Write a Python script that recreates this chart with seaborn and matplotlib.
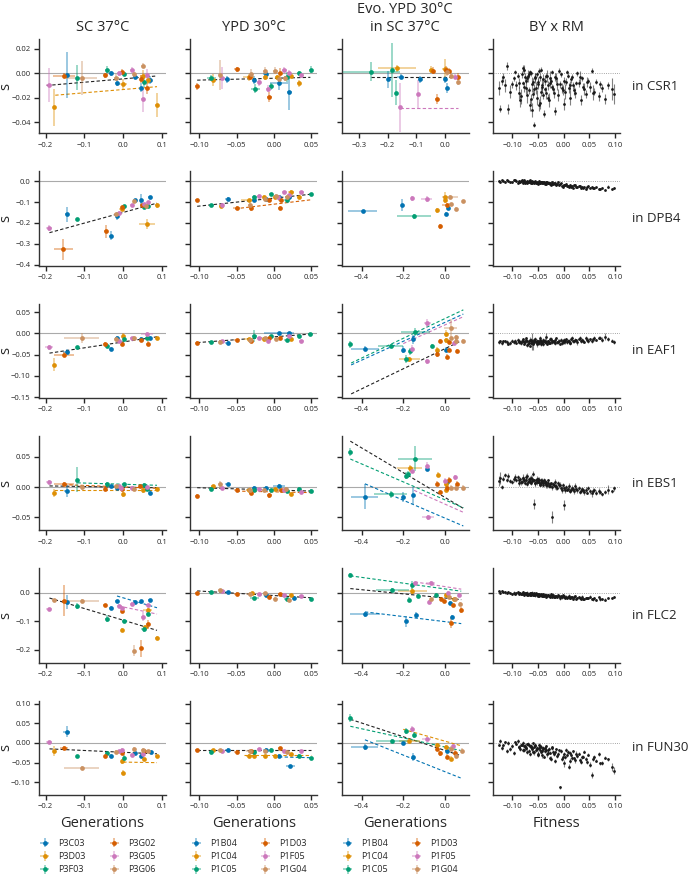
import numpy as np
import matplotlib
matplotlib.use("Agg")
import matplotlib.pyplot as plt
import seaborn as sns

# strains / panels
strains_sc = ["P3C03", "P3D03", "P3F03", "P3G02", "P3G05", "P3G06"]
strains_ypd = ["P1B04", "P1C04", "P1C05", "P1D03", "P1F05", "P1G04"]
genes = ["CSR1", "DPB4", "EAF1", "EBS1", "FLC2", "FUN30"]
col_titles = ["SC 37°C", "YPD 30°C", "Evo. YPD 30°C\nin SC 37°C", "BY x RM"]

# points: (strain, generations, s, x err, s err)
# fits: (strain or -1 for all, x from, x to, slope, intercept)
csr1_sc = [
    (4, -0.191, -0.0097, 0.008, 0.014), (1, -0.178, -0.0278, 0.004, 0.015),
    (3, -0.153, -0.0022, 0.028, 0.002), (0, -0.146, -0.0014, 0.004, 0.019),
    (2, -0.118, -0.0036, 0.004, 0.010), (5, -0.107, -0.0036, 0.040, 0.014),
    (3, -0.046, -0.0017, 0.006, 0.002), (2, -0.042, 0.0028, 0.004, 0.003),
    (0, -0.032, 0.0000, 0.004, 0.002), (5, -0.018, -0.0036, 0.006, 0.003),
    (0, -0.016, -0.0078, 0.004, 0.003), (4, -0.012, 0.0000, 0.005, 0.002),
    (3, -0.003, 0.0014, 0.004, 0.002), (2, 0.003, -0.0006, 0.004, 0.002),
    (1, 0.000, -0.0089, 0.010, 0.004), (4, 0.022, 0.0028, 0.005, 0.002),
    (5, 0.028, -0.0006, 0.004, 0.002), (0, 0.031, -0.0028, 0.006, 0.002),
    (5, 0.050, 0.0060, 0.004, 0.002), (1, 0.050, -0.0020, 0.008, 0.005),
    (3, 0.046, -0.0047, 0.004, 0.003), (0, 0.047, -0.0117, 0.004, 0.004),
    (2, 0.053, -0.0070, 0.005, 0.004), (4, 0.051, -0.0214, 0.004, 0.010),
    (3, 0.061, -0.0120, 0.004, 0.005), (4, 0.060, -0.0014, 0.006, 0.005),
    (1, 0.063, -0.0056, 0.004, 0.003), (0, 0.068, -0.0056, 0.004, 0.003),
    (1, 0.087, -0.0258, 0.004, 0.010),
]
csr1_sc_fit = [(-1, -0.197, 0.087, 0.0275, -0.0046), (1, -0.175, 0.087, 0.0267, -0.0133)]
csr1_ypd = [
    (3, -0.103, -0.0106, 0.003, 0.003), (2, -0.084, -0.0036, 0.006, 0.002),
    (1, -0.082, -0.0056, 0.003, 0.005), (5, -0.072, -0.0014, 0.003, 0.012),
    (4, -0.069, -0.0036, 0.003, 0.009), (0, -0.063, -0.0050, 0.003, 0.003),
    (3, -0.050, 0.0033, 0.004, 0.002), (1, -0.034, -0.0033, 0.008, 0.003),
    (5, -0.031, -0.0006, 0.003, 0.004), (3, -0.032, -0.0033, 0.003, 0.002),
    (0, -0.027, -0.0056, 0.003, 0.003), (4, -0.020, -0.0075, 0.003, 0.003),
    (2, -0.025, -0.0125, 0.006, 0.004), (1, -0.012, -0.0033, 0.003, 0.002),
    (5, -0.012, 0.0020, 0.003, 0.003), (0, -0.011, -0.0006, 0.003, 0.002),
    (4, -0.008, -0.0125, 0.003, 0.003), (3, -0.006, -0.0194, 0.003, 0.004),
    (2, -0.004, -0.0106, 0.003, 0.003), (5, 0.002, 0.0020, 0.003, 0.003),
    (1, 0.004, -0.0033, 0.003, 0.002), (3, 0.008, 0.0006, 0.003, 0.004),
    (5, 0.007, -0.0050, 0.003, 0.003), (0, 0.007, -0.0083, 0.012, 0.005),
    (4, 0.014, 0.0028, 0.003, 0.002), (2, 0.017, -0.0028, 0.004, 0.004),
    (4, 0.020, 0.0006, 0.003, 0.002), (5, 0.015, -0.0040, 0.003, 0.002),
    (0, 0.021, -0.0153, 0.003, 0.015), (1, 0.023, -0.0020, 0.003, 0.002),
    (2, 0.034, 0.0000, 0.003, 0.002), (1, 0.034, -0.0083, 0.003, 0.003),
    (4, 0.037, -0.0014, 0.003, 0.002), (2, 0.0496, 0.0028, 0.003, 0.003),
]
csr1_ypd_fit = [(-1, -0.103, 0.049, 0.015, -0.0041)]
csr1_evo = [
    (2, -0.257, 0.0014, 0.100, 0.008), (0, -0.197, -0.0050, 0.004, 0.007),
    (2, -0.185, 0.0028, 0.004, 0.022), (2, -0.171, -0.0158, 0.004, 0.010),
    (1, -0.168, 0.0040, 0.067, 0.003), (0, -0.154, -0.0028, 0.012, 0.002),
    (4, -0.156, -0.0278, 0.004, 0.020), (4, -0.093, -0.0172, 0.004, 0.012),
    (0, -0.088, -0.0050, 0.004, 0.003), (1, -0.046, 0.0028, 0.010, 0.003),
    (3, -0.040, 0.0022, 0.004, 0.003), (3, -0.028, -0.0210, 0.004, 0.004),
    (1, 0.000, 0.0033, 0.008, 0.008), (0, 0.000, -0.0050, 0.004, 0.003),
    (3, 0.004, 0.0028, 0.005, 0.003), (5, 0.010, 0.0014, 0.008, 0.004),
    (0, 0.010, -0.0122, 0.004, 0.004), (3, 0.016, 0.0022, 0.004, 0.002),
    (5, 0.022, -0.0020, 0.004, 0.003), (4, 0.036, -0.0028, 0.004, 0.002),
    (3, 0.048, -0.0028, 0.004, 0.003), (5, 0.046, -0.0070, 0.004, 0.003),
]
csr1_evo_fit = [(-1, -0.257, 0.048, 0.0, -0.0028), (4, -0.156, 0.048, 0.0, -0.0283)]

dpb4_sc = [
    (4, -0.191, -0.225, 0.008, 0.015), (3, -0.154, -0.327, 0.025, 0.050),
    (0, -0.146, -0.159, 0.004, 0.035), (2, -0.118, -0.183, 0.004, 0.006),
    (3, -0.045, -0.241, 0.004, 0.030), (0, -0.032, -0.261, 0.004, 0.020),
    (5, -0.019, -0.159, 0.004, 0.008), (0, -0.015, -0.167, 0.004, 0.020),
    (4, -0.010, -0.151, 0.005, 0.006), (1, -0.004, -0.132, 0.008, 0.010),
    (3, -0.003, -0.124, 0.004, 0.006), (2, 0.003, -0.120, 0.004, 0.006),
    (4, 0.022, -0.116, 0.004, 0.006), (5, 0.028, -0.097, 0.004, 0.006),
    (0, 0.031, -0.089, 0.004, 0.006), (0, 0.047, -0.092, 0.004, 0.030),
    (3, 0.048, -0.113, 0.004, 0.006), (4, 0.053, -0.108, 0.004, 0.006),
    (2, 0.054, -0.124, 0.004, 0.006), (1, 0.061, -0.204, 0.020, 0.025),
    (5, 0.058, -0.118, 0.004, 0.006), (2, 0.063, -0.118, 0.004, 0.006),
    (4, 0.064, -0.100, 0.004, 0.006), (0, 0.068, -0.076, 0.004, 0.006),
    (1, 0.087, -0.116, 0.004, 0.010),
]
dpb4_sc_fit = [(-1, -0.19, 0.087, 0.513, -0.1495)]
dpb4_ypd = [
    (3, -0.103, -0.092, 0.003, 0.008), (2, -0.084, -0.116, 0.003, 0.006),
    (4, -0.070, -0.113, 0.003, 0.010), (1, -0.071, -0.121, 0.003, 0.008),
    (0, -0.062, -0.084, 0.003, 0.008), (3, -0.050, -0.127, 0.005, 0.008),
    (1, -0.034, -0.092, 0.010, 0.006), (5, -0.032, -0.112, 0.003, 0.010),
    (3, -0.031, -0.129, 0.003, 0.015), (2, -0.026, -0.076, 0.003, 0.008),
    (0, -0.027, -0.092, 0.003, 0.008), (4, -0.020, -0.069, 0.003, 0.006),
    (1, -0.013, -0.076, 0.003, 0.008), (5, -0.012, -0.084, 0.003, 0.008),
    (0, -0.011, -0.087, 0.003, 0.008), (3, -0.006, -0.089, 0.003, 0.008),
    (2, -0.004, -0.061, 0.003, 0.006), (1, 0.002, -0.076, 0.003, 0.006),
    (4, 0.005, -0.073, 0.003, 0.006), (5, 0.003, -0.069, 0.003, 0.006),
    (3, 0.008, -0.129, 0.003, 0.008), (3, 0.009, -0.089, 0.003, 0.006),
    (0, 0.007, -0.076, 0.003, 0.006), (4, 0.014, -0.053, 0.003, 0.006),
    (2, 0.017, -0.089, 0.003, 0.008), (4, 0.020, -0.065, 0.003, 0.006),
    (5, 0.018, -0.073, 0.003, 0.006), (1, 0.023, -0.049, 0.004, 0.006),
    (0, 0.021, -0.076, 0.003, 0.006), (1, 0.034, -0.076, 0.003, 0.006),
    (4, 0.037, -0.053, 0.003, 0.006), (2, 0.050, -0.062, 0.003, 0.006),
]
dpb4_ypd_fit = [(-1, -0.103, 0.05, 0.38, -0.081), (3, -0.052, 0.049, 0.425, -0.110)]
dpb4_evo = [
    (0, -0.395, -0.145, 0.070, 0.008), (0, -0.204, -0.113, 0.004, 0.030),
    (4, -0.159, -0.081, 0.004, 0.012), (4, -0.088, -0.084, 0.025, 0.015),
    (2, -0.148, -0.169, 0.080, 0.010), (1, -0.037, -0.140, 0.006, 0.012),
    (1, -0.002, -0.073, 0.006, 0.020), (1, 0.002, -0.092, 0.006, 0.010),
    (5, 0.024, -0.076, 0.040, 0.010), (3, 0.008, -0.113, 0.020, 0.008),
    (5, 0.027, -0.110, 0.006, 0.008), (0, 0.014, -0.129, 0.004, 0.010),
    (0, 0.005, -0.156, 0.004, 0.010), (5, 0.054, -0.132, 0.004, 0.008),
    (5, 0.086, -0.097, 0.004, 0.006), (3, -0.025, -0.217, 0.004, 0.012),
]
dpb4_evo_fit = []

eaf1_sc = [
    (4, -0.191, -0.0326, 0.010, 0.006), (1, -0.178, -0.0736, 0.004, 0.015),
    (3, -0.153, -0.0500, 0.025, 0.006), (0, -0.146, -0.0430, 0.008, 0.006),
    (2, -0.118, -0.0326, 0.004, 0.004), (5, -0.107, -0.0100, 0.045, 0.012),
    (3, -0.046, -0.0240, 0.006, 0.004), (2, -0.042, -0.0290, 0.004, 0.004),
    (0, -0.032, -0.0370, 0.004, 0.005), (5, -0.019, -0.0140, 0.004, 0.004),
    (0, -0.016, -0.0100, 0.004, 0.004), (4, -0.012, -0.0180, 0.006, 0.004),
    (3, -0.003, -0.0240, 0.004, 0.004), (1, 0.000, -0.0050, 0.004, 0.006),
    (2, 0.003, -0.0140, 0.004, 0.004), (4, 0.022, -0.0120, 0.004, 0.004),
    (5, 0.028, -0.0100, 0.004, 0.004), (3, 0.046, -0.0155, 0.004, 0.004),
    (0, 0.047, -0.0130, 0.004, 0.004), (4, 0.061, -0.0020, 0.015, 0.005),
    (3, 0.063, -0.0240, 0.004, 0.005), (2, 0.061, -0.0110, 0.004, 0.004),
    (0, 0.070, -0.0100, 0.004, 0.004), (1, 0.087, -0.0120, 0.004, 0.004),
]
eaf1_sc_fit = [(-1, -0.19, 0.087, 0.139, -0.0201)]
eaf1_ypd = [
    (3, -0.103, -0.0217, 0.003, 0.003), (2, -0.084, -0.0200, 0.003, 0.003),
    (5, -0.072, -0.0200, 0.003, 0.004), (4, -0.069, -0.0180, 0.003, 0.003),
    (0, -0.062, -0.0217, 0.003, 0.003), (3, -0.050, -0.0160, 0.003, 0.003),
    (1, -0.034, -0.0140, 0.006, 0.003), (5, -0.032, -0.0160, 0.003, 0.003),
    (3, -0.031, -0.0170, 0.003, 0.003), (2, -0.026, -0.0060, 0.003, 0.015),
    (4, -0.020, -0.0120, 0.003, 0.003), (1, -0.013, -0.0140, 0.003, 0.004),
    (5, -0.012, -0.0120, 0.006, 0.003), (4, -0.008, -0.0190, 0.003, 0.003),
    (3, -0.006, -0.0110, 0.003, 0.003), (2, -0.004, -0.0070, 0.003, 0.003),
    (0, 0.007, 0.0000, 0.020, 0.002), (3, 0.008, -0.0100, 0.003, 0.003),
    (5, 0.003, -0.0140, 0.003, 0.003), (2, 0.017, -0.0160, 0.003, 0.003),
    (0, 0.021, 0.0010, 0.003, 0.002), (1, 0.023, -0.0140, 0.003, 0.003),
    (4, 0.020, -0.0060, 0.003, 0.003), (4, 0.037, -0.0180, 0.003, 0.003),
    (2, 0.034, -0.0060, 0.003, 0.003), (2, 0.049, -0.0010, 0.003, 0.003),
]
eaf1_ypd_fit = [(-1, -0.103, 0.049, 0.132, -0.0081)]
eaf1_evo = [
    (2, -0.454, -0.0256, 0.004, 0.008), (0, -0.384, -0.0357, 0.068, 0.006),
    (2, -0.260, -0.0287, 0.060, 0.004), (0, -0.199, -0.0388, 0.004, 0.008),
    (2, -0.185, -0.0605, 0.004, 0.010), (2, -0.170, -0.0426, 0.004, 0.008),
    (0, -0.155, -0.0140, 0.004, 0.010), (4, -0.156, -0.0357, 0.004, 0.008),
    (2, -0.143, 0.0030, 0.070, 0.010), (1, -0.172, -0.0605, 0.050, 0.006),
    (4, -0.084, 0.0240, 0.015, 0.010), (4, -0.088, -0.0660, 0.008, 0.006),
    (2, -0.064, -0.0295, 0.004, 0.004), (1, -0.037, -0.0388, 0.006, 0.006),
    (3, -0.040, -0.0490, 0.004, 0.006), (3, -0.024, -0.0180, 0.004, 0.004),
    (1, 0.003, -0.0008, 0.006, 0.008), (1, 0.003, -0.0160, 0.006, 0.006),
    (0, 0.005, -0.0380, 0.004, 0.006), (3, 0.008, -0.0550, 0.004, 0.006),
    (3, 0.019, -0.0380, 0.004, 0.004), (3, 0.019, -0.0200, 0.004, 0.004),
    (5, 0.027, 0.0130, 0.030, 0.020), (5, 0.027, -0.0100, 0.004, 0.004),
    (5, 0.054, -0.0080, 0.004, 0.004), (5, 0.051, -0.0180, 0.004, 0.004),
    (3, 0.056, -0.0410, 0.004, 0.004), (5, 0.086, -0.0180, 0.004, 0.004),
    (4, 0.043, -0.0230, 0.004, 0.004),
]
eaf1_evo_fit = [(-1, -0.45, 0.07, 0.237, -0.036), (2, -0.45, 0.088, 0.233, 0.035),
                (0, -0.45, 0.088, 0.223, 0.026), (4, -0.2, 0.088, 0.22, 0.020)]

ebs1_sc = [
    (4, -0.191, 0.0092, 0.008, 0.003), (1, -0.178, -0.0097, 0.004, 0.006),
    (3, -0.153, 0.0054, 0.025, 0.003), (0, -0.146, -0.0065, 0.006, 0.010),
    (2, -0.118, 0.0124, 0.004, 0.020), (5, -0.107, 0.0000, 0.006, 0.004),
    (3, -0.046, -0.0027, 0.004, 0.003), (2, -0.042, 0.0054, 0.004, 0.003),
    (0, -0.032, 0.0010, 0.004, 0.003), (5, -0.018, 0.0010, 0.004, 0.003),
    (0, -0.016, -0.0017, 0.004, 0.003), (4, -0.010, 0.0010, 0.004, 0.003),
    (4, -0.006, -0.0010, 0.004, 0.003), (3, -0.003, -0.0027, 0.004, 0.003),
    (1, 0.000, -0.0120, 0.004, 0.004), (2, 0.003, 0.0043, 0.004, 0.003),
    (4, 0.022, -0.0010, 0.004, 0.003), (5, 0.027, -0.0027, 0.004, 0.003),
    (3, 0.044, 0.0010, 0.004, 0.003), (2, 0.053, 0.0038, 0.004, 0.003),
    (1, 0.051, -0.0054, 0.004, 0.004), (4, 0.061, 0.0000, 0.004, 0.003),
    (2, 0.061, -0.0038, 0.004, 0.003), (0, 0.068, -0.0092, 0.004, 0.004),
    (1, 0.087, -0.0027, 0.004, 0.003),
]
ebs1_sc_fit = [(-1, -0.19, 0.087, -0.0108, -0.0001), (2, -0.118, 0.087, -0.0195, 0.0047),
               (1, -0.178, 0.087, 0.0, -0.0040), (3, -0.153, 0.087, -0.025, 0.0002)]
ebs1_ypd = [
    (3, -0.103, -0.0146, 0.003, 0.004), (2, -0.084, -0.0027, 0.003, 0.003),
    (1, -0.082, 0.0010, 0.003, 0.003), (5, -0.072, 0.0043, 0.003, 0.006),
    (4, -0.069, -0.0010, 0.003, 0.003), (0, -0.062, 0.0043, 0.003, 0.003),
    (3, -0.050, -0.0043, 0.003, 0.003), (1, -0.034, -0.0054, 0.003, 0.003),
    (5, -0.032, -0.0043, 0.006, 0.004), (3, -0.031, -0.0090, 0.003, 0.003),
    (0, -0.027, -0.0010, 0.003, 0.003), (2, -0.026, -0.0043, 0.003, 0.003),
    (4, -0.020, -0.0038, 0.003, 0.003), (5, -0.013, -0.0054, 0.003, 0.003),
    (0, -0.011, -0.0017, 0.003, 0.003), (3, -0.006, -0.0135, 0.003, 0.004),
    (2, -0.004, -0.0054, 0.003, 0.003), (1, 0.002, -0.0038, 0.003, 0.003),
    (0, 0.007, 0.0016, 0.008, 0.003), (3, 0.009, -0.0054, 0.003, 0.003),
    (5, 0.016, -0.0027, 0.003, 0.003), (4, 0.014, -0.0043, 0.003, 0.003),
    (2, 0.017, -0.0065, 0.003, 0.003), (1, 0.023, -0.0108, 0.003, 0.003),
    (2, 0.034, -0.0027, 0.003, 0.003), (4, 0.037, -0.0080, 0.003, 0.003),
    (2, 0.0496, -0.0065, 0.003, 0.003),
]
ebs1_ypd_fit = [(-1, -0.103, 0.05, -0.036, -0.0047), (3, -0.05, 0.05, -0.025, -0.0078)]
ebs1_evo = [
    (2, -0.454, 0.0580, 0.004, 0.006), (0, -0.384, -0.0157, 0.065, 0.020),
    (2, -0.260, -0.0120, 0.080, 0.006), (0, -0.199, -0.0160, 0.004, 0.008),
    (0, -0.155, -0.0135, 0.004, 0.014), (2, -0.143, 0.0470, 0.080, 0.020),
    (1, -0.169, 0.0310, 0.060, 0.006), (2, -0.185, 0.0190, 0.004, 0.006),
    (2, -0.175, 0.0210, 0.004, 0.006), (4, -0.156, 0.0270, 0.004, 0.004),
    (4, -0.088, 0.0350, 0.004, 0.006), (0, -0.084, 0.0300, 0.004, 0.004),
    (4, -0.081, -0.0500, 0.030, 0.004), (1, -0.033, 0.0205, 0.006, 0.004),
    (3, -0.037, 0.0054, 0.004, 0.004), (3, -0.024, -0.0080, 0.004, 0.004),
    (4, -0.002, 0.0108, 0.004, 0.004), (1, 0.003, 0.0054, 0.006, 0.006),
    (0, 0.008, 0.0080, 0.004, 0.004), (3, 0.019, 0.0124, 0.004, 0.004),
    (3, 0.011, -0.0010, 0.004, 0.004), (1, 0.003, -0.0045, 0.004, 0.004),
    (5, 0.027, -0.0010, 0.004, 0.004), (5, 0.054, -0.0010, 0.004, 0.004),
    (4, 0.046, 0.0160, 0.004, 0.004), (3, 0.056, 0.0054, 0.004, 0.004),
    (5, 0.086, -0.0010, 0.004, 0.004),
]
ebs1_evo_fit = [(-1, -0.454, 0.088, -0.204, -0.017), (2, -0.454, 0.088, -0.148, -0.021),
                (0, -0.384, 0.088, -0.147, -0.051), (4, -0.148, 0.088, -0.153, -0.028)]

flc2_sc = [
    (4, -0.191, -0.0588, 0.008, 0.006), (5, -0.178, -0.0270, 0.006, 0.006),
    (3, -0.153, -0.0280, 0.004, 0.055), (0, -0.146, -0.0330, 0.004, 0.025),
    (2, -0.118, -0.0470, 0.004, 0.012), (5, -0.107, -0.0280, 0.045, 0.006),
    (3, -0.046, -0.0450, 0.005, 0.006), (2, -0.042, -0.0920, 0.004, 0.012),
    (0, -0.032, -0.0530, 0.004, 0.006), (0, -0.016, -0.0310, 0.004, 0.006),
    (4, -0.010, -0.0470, 0.006, 0.006), (4, -0.003, -0.0530, 0.004, 0.006),
    (3, -0.002, -0.0650, 0.004, 0.006), (1, -0.002, -0.1310, 0.004, 0.006),
    (2, 0.003, -0.1000, 0.006, 0.006), (0, 0.031, -0.0330, 0.004, 0.006),
    (4, 0.022, -0.0390, 0.004, 0.006), (5, 0.029, -0.2040, 0.004, 0.020),
    (3, 0.046, -0.1950, 0.004, 0.030), (0, 0.047, -0.0310, 0.004, 0.006),
    (4, 0.051, -0.0840, 0.004, 0.015), (2, 0.053, -0.1270, 0.006, 0.010),
    (1, 0.055, -0.1200, 0.004, 0.006), (4, 0.063, -0.0450, 0.006, 0.006),
    (1, 0.063, -0.0600, 0.012, 0.006), (2, 0.063, -0.0740, 0.004, 0.008),
    (3, 0.063, -0.1120, 0.004, 0.015), (0, 0.068, -0.0270, 0.004, 0.006),
    (1, 0.087, -0.1590, 0.004, 0.008),
]
flc2_sc_fit = [(-1, -0.19, 0.087, -0.41, -0.097), (0, -0.016, 0.087, -0.40, -0.0184),
               (4, -0.012, 0.087, -0.287, -0.0504)]
flc2_ypd = [
    (3, -0.103, 0.0000, 0.003, 0.003), (2, -0.084, 0.0020, 0.003, 0.003),
    (5, -0.072, 0.0080, 0.003, 0.004), (0, -0.062, 0.0035, 0.003, 0.003),
    (4, -0.069, 0.0060, 0.003, 0.003), (3, -0.050, -0.0060, 0.003, 0.003),
    (1, -0.030, -0.0020, 0.003, 0.003), (5, -0.032, -0.0060, 0.006, 0.004),
    (2, -0.026, -0.0180, 0.006, 0.004), (4, -0.020, -0.0060, 0.003, 0.003),
    (5, -0.012, -0.0020, 0.003, 0.003), (0, -0.010, -0.0090, 0.003, 0.003),
    (3, -0.006, -0.0150, 0.003, 0.003), (5, 0.002, -0.0210, 0.003, 0.004),
    (3, 0.008, -0.0060, 0.003, 0.006), (4, 0.014, -0.0090, 0.003, 0.003),
    (2, 0.017, -0.0210, 0.003, 0.003), (5, 0.020, -0.0270, 0.003, 0.003),
    (1, 0.023, -0.0090, 0.003, 0.003), (0, 0.027, -0.0180, 0.003, 0.003),
    (4, 0.037, -0.0130, 0.003, 0.003), (2, 0.050, -0.0210, 0.003, 0.003),
]
flc2_ypd_fit = [(-1, -0.103, 0.05, -0.158, -0.0103)]
flc2_evo = [
    (2, -0.454, 0.0635, 0.004, 0.006), (0, -0.384, -0.0765, 0.070, 0.008),
    (2, -0.252, 0.0106, 0.080, 0.006), (0, -0.188, -0.1010, 0.004, 0.020),
    (2, -0.172, -0.0250, 0.004, 0.008), (2, -0.159, 0.0260, 0.004, 0.015),
    (1, -0.156, 0.0060, 0.070, 0.010), (4, -0.145, 0.0320, 0.006, 0.006),
    (0, -0.140, -0.0780, 0.004, 0.010), (2, -0.129, -0.0110, 0.004, 0.006),
    (4, -0.069, 0.0340, 0.020, 0.006), (4, -0.076, -0.0330, 0.004, 0.008),
    (5, -0.069, -0.0240, 0.004, 0.006), (2, -0.045, -0.0090, 0.004, 0.006),
    (3, -0.020, -0.0210, 0.004, 0.006), (3, -0.005, -0.0310, 0.004, 0.006),
    (1, 0.003, -0.0090, 0.008, 0.008), (5, 0.019, -0.0150, 0.004, 0.006),
    (4, 0.014, -0.0010, 0.004, 0.006), (4, 0.067, -0.0070, 0.004, 0.006),
    (0, 0.024, -0.0360, 0.004, 0.006), (1, 0.043, -0.0240, 0.004, 0.006),
    (5, 0.048, -0.0210, 0.004, 0.006), (3, 0.040, -0.0450, 0.004, 0.006),
    (3, 0.075, -0.0600, 0.004, 0.010), (5, 0.072, -0.0390, 0.004, 0.006),
    (0, 0.035, -0.0860, 0.004, 0.006), (3, 0.027, -0.1060, 0.004, 0.020),
]
flc2_evo_fit = [(2, -0.454, 0.078, -0.1015, 0.0129), (-1, -0.454, 0.078, -0.073, -0.019),
                (0, -0.384, 0.078, -0.089, -0.102), (4, -0.145, 0.078, -0.115, 0.021)]

fun30_sc = [
    (4, -0.191, 0.0017, 0.008, 0.003), (1, -0.178, -0.0210, 0.004, 0.012),
    (3, -0.153, -0.0126, 0.010, 0.004), (0, -0.146, 0.0290, 0.010, 0.015),
    (2, -0.118, -0.0335, 0.004, 0.004), (5, -0.107, -0.0630, 0.045, 0.004),
    (3, -0.046, -0.0335, 0.004, 0.004), (2, -0.042, -0.0260, 0.004, 0.004),
    (0, -0.032, -0.0320, 0.004, 0.004), (5, -0.019, -0.0230, 0.004, 0.004),
    (4, -0.010, -0.0210, 0.004, 0.004), (4, -0.003, -0.0170, 0.004, 0.004),
    (3, -0.002, -0.0260, 0.004, 0.004), (1, -0.002, -0.0470, 0.004, 0.006),
    (1, -0.001, -0.0754, 0.004, 0.006), (2, 0.003, -0.0377, 0.004, 0.006),
    (4, 0.022, -0.0300, 0.004, 0.004), (5, 0.029, -0.0150, 0.004, 0.004),
    (0, 0.031, -0.0260, 0.004, 0.004), (0, 0.047, -0.0320, 0.004, 0.004),
    (4, 0.051, -0.0290, 0.004, 0.006), (5, 0.051, -0.0170, 0.004, 0.004),
    (3, 0.053, -0.0200, 0.004, 0.004), (1, 0.053, -0.0420, 0.004, 0.004),
    (5, 0.063, -0.0210, 0.004, 0.004), (0, 0.071, -0.0220, 0.004, 0.004),
    (1, 0.087, -0.0340, 0.004, 0.004),
]
fun30_sc_fit = [(-1, -0.19, 0.087, -0.0455, -0.0237), (1, 0.0, 0.087, -0.016, -0.0486)]
fun30_ypd = [
    (3, -0.103, -0.0190, 0.003, 0.003), (2, -0.084, -0.0220, 0.003, 0.003),
    (1, -0.082, -0.0180, 0.003, 0.003), (5, -0.072, -0.0190, 0.003, 0.003),
    (4, -0.069, -0.0210, 0.003, 0.003), (0, -0.062, -0.0170, 0.003, 0.003),
    (3, -0.050, -0.0220, 0.003, 0.003), (1, -0.034, -0.0320, 0.004, 0.003),
    (5, -0.032, -0.0200, 0.006, 0.003), (1, -0.027, -0.0320, 0.003, 0.003),
    (3, -0.031, -0.0200, 0.003, 0.003), (2, -0.026, -0.0220, 0.003, 0.003),
    (4, -0.020, -0.0150, 0.003, 0.003), (1, -0.012, -0.0340, 0.003, 0.003),
    (0, -0.011, -0.0170, 0.003, 0.003), (5, -0.012, -0.0200, 0.003, 0.003),
    (2, -0.004, -0.0170, 0.003, 0.003), (3, 0.008, -0.0126, 0.003, 0.003),
    (1, 0.002, -0.0320, 0.003, 0.003), (0, 0.007, -0.0320, 0.003, 0.003),
    (4, 0.014, -0.0200, 0.003, 0.003), (5, 0.018, -0.0240, 0.003, 0.003),
    (0, 0.022, -0.0590, 0.006, 0.004), (1, 0.023, -0.0290, 0.003, 0.003),
    (4, 0.037, -0.0200, 0.003, 0.003), (2, 0.034, -0.0320, 0.003, 0.003),
    (2, 0.0496, -0.0377, 0.003, 0.003),
]
fun30_ypd_fit = [(-1, -0.103, 0.05, 0.0, -0.019), (1, -0.04, 0.05, 0.0, -0.031),
                 (0, 0.007, 0.05, -0.05, -0.035)]
fun30_evo = [
    (2, -0.454, 0.0630, 0.004, 0.010), (0, -0.384, -0.0100, 0.065, 0.008),
    (2, -0.252, 0.0050, 0.080, 0.006), (2, -0.185, 0.0300, 0.004, 0.008),
    (0, -0.199, 0.0000, 0.004, 0.006), (1, -0.172, 0.0060, 0.050, 0.006),
    (4, -0.160, 0.0360, 0.004, 0.006), (2, -0.150, 0.0200, 0.004, 0.008),
    (0, -0.155, -0.0360, 0.004, 0.010), (4, -0.088, 0.0100, 0.020, 0.006),
    (1, -0.037, -0.0050, 0.006, 0.006), (3, -0.040, -0.0150, 0.004, 0.006),
    (3, -0.024, -0.0260, 0.004, 0.006), (1, 0.003, -0.0100, 0.006, 0.006),
    (0, 0.008, -0.0200, 0.004, 0.006), (3, 0.011, -0.0350, 0.004, 0.006),
    (5, 0.027, -0.0150, 0.004, 0.006), (4, 0.040, -0.0080, 0.004, 0.006),
    (3, 0.046, -0.0250, 0.004, 0.006), (5, 0.054, -0.0320, 0.004, 0.006),
    (1, 0.030, -0.0400, 0.004, 0.006), (5, 0.080, -0.0200, 0.004, 0.006),
]
fun30_evo_fit = [(-1, -0.454, 0.075, -0.174, -0.019), (0, -0.384, 0.075, -0.211, -0.073),
                 (2, -0.454, 0.075, -0.116, -0.0104), (1, -0.2, 0.075, -0.15, 0.0045)]

# BY x RM segregants: fitness, s in each knockout, s error
byrm_fitness = [
    -0.126, -0.124, -0.121, -0.115, -0.110, -0.108, -0.101, -0.097,
    -0.093, -0.090, -0.087, -0.086, -0.081, -0.079, -0.078, -0.076,
    -0.074, -0.072, -0.071, -0.068, -0.066, -0.065, -0.062, -0.060,
    -0.058, -0.057, -0.055, -0.052, -0.050, -0.049, -0.046, -0.043,
    -0.041, -0.038, -0.035, -0.034, -0.031, -0.028, -0.025, -0.023,
    -0.020, -0.017, -0.015, -0.011, -0.008, -0.006, -0.002, 0.001,
    0.004, 0.007, 0.010, 0.013, 0.017, 0.019, 0.023, 0.026,
    0.029, 0.033, 0.036, 0.040, 0.043, 0.047, 0.051, 0.055,
    0.060, 0.064, 0.069, 0.074, 0.080, 0.087, 0.095, 0.098,
    -0.118, -0.104, -0.095, -0.088, -0.083, -0.080, -0.077, -0.073,
    -0.070, -0.067, -0.064, -0.063, -0.061, -0.059, -0.056, -0.054,
    -0.053, -0.051, -0.048, -0.047, -0.045, -0.044, -0.042, -0.040,
    -0.037, -0.036, -0.033, -0.030, -0.027, -0.026, -0.022, -0.019,
    -0.016, -0.013, -0.010, -0.004, 0.000, 0.003, 0.008, 0.012,
    0.015, 0.021, 0.025, 0.031, 0.038, 0.045, 0.058, 0.071,
]
csr1_byrm = [
    -0.012, -0.029, -0.006, -0.010, 0.006, -0.029, -0.009, -0.004,
    -0.010, -0.002, -0.016, -0.022, -0.001, -0.008, 0.003, -0.003,
    -0.012, -0.004, -0.018, -0.001, -0.026, 0.001, -0.030, -0.007,
    -0.042, -0.013, -0.003, -0.020, -0.009, 0.002, -0.024, -0.011,
    -0.005, -0.033, -0.016, -0.002, -0.010, -0.022, -0.006, 0.001,
    -0.013, -0.031, -0.004, -0.018, -0.009, -0.001, -0.014, -0.025,
    -0.007, 0.001, -0.012, -0.020, -0.003, -0.010, -0.016, 0.000,
    -0.008, -0.022, -0.004, -0.013, -0.017, -0.006, -0.011, 0.002,
    -0.015, -0.007, -0.019, -0.012, -0.021, -0.010, -0.013, -0.017,
    -0.003, -0.015, 0.001, -0.008, -0.019, 0.004, -0.011, -0.006,
    -0.002, -0.014, -0.021, 0.000, -0.009, -0.017, -0.004, -0.012,
    -0.001, -0.007, -0.026, -0.003, -0.015, 0.003, -0.010, -0.018,
    -0.006, -0.013, -0.002, -0.020, -0.008, -0.004, -0.011, -0.016,
    -0.003, -0.009, 0.002, -0.012, -0.006, -0.015, -0.002, -0.010,
    -0.005, -0.014, -0.008, -0.003, -0.011, -0.007, -0.016, -0.009,
]
csr1_byrm_err = [
    0.006, 0.003, 0.004, 0.005, 0.003, 0.004, 0.003, 0.002,
    0.004, 0.002, 0.005, 0.006, 0.003, 0.002, 0.004, 0.003,
    0.005, 0.002, 0.006, 0.003, 0.005, 0.002, 0.006, 0.003,
    0.002, 0.004, 0.003, 0.006, 0.004, 0.002, 0.005, 0.003,
    0.004, 0.003, 0.005, 0.002, 0.004, 0.006, 0.003, 0.002,
    0.003, 0.003, 0.004, 0.005, 0.003, 0.002, 0.004, 0.005,
    0.003, 0.002, 0.004, 0.006, 0.002, 0.003, 0.004, 0.002,
    0.003, 0.004, 0.002, 0.005, 0.003, 0.002, 0.004, 0.002,
    0.003, 0.002, 0.004, 0.003, 0.004, 0.003, 0.009, 0.008,
    0.003, 0.005, 0.002, 0.004, 0.006, 0.003, 0.004, 0.002,
    0.005, 0.003, 0.004, 0.002, 0.006, 0.003, 0.004, 0.005,
    0.002, 0.004, 0.005, 0.003, 0.004, 0.002, 0.006, 0.003,
    0.004, 0.002, 0.005, 0.003, 0.004, 0.006, 0.002, 0.004,
    0.003, 0.005, 0.002, 0.004, 0.003, 0.006, 0.002, 0.004,
    0.003, 0.004, 0.002, 0.005, 0.003, 0.004, 0.006, 0.003,
]
dpb4_byrm = [
    0.000, -0.005, 0.004, -0.003, 0.008, 0.002, -0.004, 0.006,
    0.001, -0.006, 0.003, -0.002, 0.007, -0.004, 0.000, -0.010,
    -0.003, 0.002, -0.008, -0.001, -0.005, 0.004, -0.007, -0.002,
    -0.004, -0.010, 0.000, -0.006, -0.012, -0.003, -0.008, -0.001,
    -0.009, -0.005, -0.014, -0.002, -0.010, -0.007, -0.016, -0.004,
    -0.012, -0.008, -0.020, -0.005, -0.015, -0.010, -0.025, -0.018,
    -0.014, -0.022, -0.028, -0.017, -0.024, -0.030, -0.019, -0.026,
    -0.021, -0.032, -0.025, -0.029, -0.035, -0.023, -0.030, -0.027,
    -0.033, -0.028, -0.038, -0.031, -0.040, -0.026, -0.037, -0.030,
    0.003, -0.002, 0.005, -0.001, 0.002, -0.006, 0.004, -0.003,
    -0.002, 0.001, -0.005, -0.008, 0.000, -0.004, -0.001, -0.007,
    -0.003, -0.006, 0.001, -0.009, -0.004, -0.002, -0.008, -0.005,
    -0.006, -0.011, -0.004, -0.009, -0.013, -0.007, -0.012, -0.010,
    -0.015, -0.011, -0.018, -0.022, -0.016, -0.020, -0.024, -0.021,
    -0.025, -0.019, -0.028, -0.023, -0.030, -0.027, -0.033, -0.036,
]
dpb4_byrm_err = [
    0.004, 0.003, 0.005, 0.003, 0.004, 0.003, 0.006, 0.003,
    0.003, 0.004, 0.003, 0.005, 0.003, 0.004, 0.003, 0.004,
    0.005, 0.003, 0.004, 0.003, 0.006, 0.003, 0.004, 0.003,
    0.003, 0.005, 0.003, 0.004, 0.003, 0.003, 0.005, 0.004,
    0.004, 0.003, 0.006, 0.003, 0.004, 0.003, 0.003, 0.005,
    0.003, 0.004, 0.003, 0.005, 0.003, 0.004, 0.006, 0.003,
    0.004, 0.003, 0.005, 0.003, 0.004, 0.003, 0.003, 0.004,
    0.003, 0.005, 0.004, 0.003, 0.006, 0.003, 0.004, 0.003,
    0.004, 0.003, 0.005, 0.003, 0.004, 0.006, 0.003, 0.005,
    0.003, 0.004, 0.003, 0.005, 0.004, 0.003, 0.004, 0.003,
    0.005, 0.003, 0.004, 0.003, 0.004, 0.005, 0.003, 0.004,
    0.003, 0.004, 0.005, 0.003, 0.004, 0.003, 0.005, 0.004,
    0.004, 0.003, 0.004, 0.005, 0.003, 0.004, 0.003, 0.004,
    0.003, 0.005, 0.004, 0.003, 0.004, 0.003, 0.005, 0.003,
    0.004, 0.003, 0.005, 0.004, 0.003, 0.004, 0.005, 0.004,
]
eaf1_byrm = [
    -0.020, -0.018, -0.022, -0.019, -0.021, -0.024, -0.017, -0.020,
    -0.023, -0.016, -0.019, -0.021, -0.018, -0.014, -0.025, -0.020,
    -0.012, -0.027, -0.018, -0.022, -0.015, -0.030, -0.019, -0.023,
    -0.016, -0.021, -0.013, -0.026, -0.018, -0.022, -0.011, -0.020,
    -0.024, -0.017, -0.021, -0.008, -0.019, -0.023, -0.014, -0.020,
    -0.018, -0.022, -0.012, -0.020, -0.025, -0.016, -0.019, -0.021,
    -0.014, -0.020, -0.017, -0.023, -0.012, -0.019, -0.016, -0.021,
    -0.013, -0.018, -0.015, -0.020, -0.011, -0.017, -0.014, -0.019,
    -0.012, -0.016, -0.010, -0.015, -0.008, -0.013, -0.017, -0.020,
    -0.019, -0.022, -0.017, -0.020, -0.023, -0.018, -0.021, -0.016,
    -0.024, -0.019, -0.015, -0.022, -0.020, -0.026, -0.017, -0.021,
    -0.018, -0.023, -0.020, -0.016, -0.025, -0.019, -0.022, -0.015,
    -0.021, -0.017, -0.024, -0.019, -0.014, -0.022, -0.018, -0.020,
    -0.016, -0.021, -0.018, -0.023, -0.015, -0.019, -0.017, -0.022,
    -0.014, -0.019, -0.016, -0.012, -0.018, -0.015, -0.013, -0.010,
]
eaf1_byrm_err = [
    0.004, 0.003, 0.005, 0.004, 0.006, 0.003, 0.004, 0.005,
    0.003, 0.006, 0.004, 0.003, 0.005, 0.004, 0.003, 0.006,
    0.004, 0.005, 0.003, 0.004, 0.006, 0.003, 0.020, 0.004,
    0.005, 0.003, 0.004, 0.006, 0.003, 0.005, 0.004, 0.003,
    0.006, 0.004, 0.003, 0.010, 0.004, 0.003, 0.005, 0.004,
    0.003, 0.005, 0.004, 0.006, 0.003, 0.004, 0.005, 0.003,
    0.004, 0.006, 0.003, 0.004, 0.005, 0.003, 0.004, 0.006,
    0.003, 0.004, 0.005, 0.003, 0.004, 0.006, 0.003, 0.004,
    0.005, 0.003, 0.004, 0.006, 0.008, 0.004, 0.003, 0.004,
    0.004, 0.005, 0.003, 0.006, 0.004, 0.003, 0.005, 0.004,
    0.006, 0.003, 0.004, 0.005, 0.003, 0.012, 0.004, 0.003,
    0.005, 0.004, 0.003, 0.006, 0.004, 0.005, 0.003, 0.004,
    0.003, 0.005, 0.004, 0.003, 0.006, 0.004, 0.003, 0.005,
    0.004, 0.003, 0.005, 0.004, 0.003, 0.006, 0.004, 0.003,
    0.005, 0.004, 0.003, 0.006, 0.004, 0.005, 0.003, 0.004,
]
ebs1_byrm = [
    0.010, 0.015, 0.000, 0.020, 0.012, 0.018, 0.008, 0.013,
    0.011, 0.016, 0.006, 0.013, 0.009, 0.015, 0.011, 0.007,
    0.012, 0.018, 0.005, 0.010, 0.014, 0.008, 0.013, 0.022,
    -0.028, 0.011, 0.006, 0.014, 0.009, 0.012, 0.004, 0.010,
    0.007, 0.012, 0.003, 0.008, 0.011, 0.002, 0.006, -0.049,
    0.005, 0.009, 0.001, 0.007, 0.004, -0.002, 0.003, -0.030,
    0.000, -0.004, 0.002, -0.006, -0.001, -0.003, 0.001, -0.005,
    -0.002, -0.006, -0.003, -0.008, -0.004, -0.001, -0.007, -0.010,
    -0.005, -0.009, -0.006, -0.012, -0.008, -0.004, -0.007, -0.002,
    0.014, 0.010, 0.017, 0.012, 0.008, 0.015, 0.011, 0.016,
    0.009, 0.013, 0.007, 0.015, 0.010, 0.012, 0.006, 0.011,
    0.008, 0.013, 0.009, 0.005, 0.011, 0.007, 0.010, 0.004,
    0.006, 0.009, 0.003, 0.007, 0.002, 0.005, 0.000, 0.004,
    0.001, -0.002, 0.003, -0.004, -0.001, -0.005, -0.003, -0.006,
    -0.004, -0.007, -0.003, -0.008, -0.005, -0.009, -0.006, -0.008,
]
ebs1_byrm_err = [
    0.008, 0.010, 0.003, 0.004, 0.003, 0.005, 0.003, 0.004,
    0.003, 0.004, 0.005, 0.003, 0.004, 0.006, 0.003, 0.004,
    0.003, 0.005, 0.004, 0.003, 0.004, 0.003, 0.005, 0.004,
    0.008, 0.003, 0.004, 0.005, 0.003, 0.004, 0.003, 0.005,
    0.004, 0.003, 0.005, 0.004, 0.003, 0.004, 0.003, 0.010,
    0.003, 0.004, 0.005, 0.003, 0.004, 0.003, 0.004, 0.008,
    0.004, 0.003, 0.005, 0.003, 0.004, 0.003, 0.005, 0.004,
    0.003, 0.004, 0.003, 0.005, 0.004, 0.003, 0.004, 0.006,
    0.003, 0.004, 0.005, 0.003, 0.004, 0.008, 0.003, 0.004,
    0.004, 0.003, 0.005, 0.003, 0.004, 0.003, 0.004, 0.005,
    0.003, 0.004, 0.003, 0.005, 0.004, 0.003, 0.004, 0.003,
    0.005, 0.003, 0.004, 0.003, 0.004, 0.005, 0.003, 0.004,
    0.003, 0.004, 0.005, 0.003, 0.004, 0.003, 0.005, 0.004,
    0.004, 0.003, 0.004, 0.005, 0.003, 0.004, 0.003, 0.004,
    0.003, 0.005, 0.004, 0.003, 0.004, 0.003, 0.005, 0.004,
]
flc2_byrm = [
    0.004, 0.000, 0.006, 0.001, -0.002, 0.003, -0.005, 0.000,
    -0.003, 0.002, -0.006, -0.001, -0.004, 0.001, -0.008, -0.003,
    -0.005, 0.000, -0.009, -0.004, -0.002, -0.007, -0.001, -0.006,
    -0.008, -0.003, -0.010, -0.005, -0.012, -0.004, -0.007, -0.011,
    -0.006, -0.013, -0.009, -0.015, -0.008, -0.011, -0.005, -0.014,
    -0.010, -0.016, -0.012, -0.008, -0.019, -0.013, -0.010, -0.017,
    -0.014, -0.020, -0.011, -0.018, -0.015, -0.022, -0.013, -0.019,
    -0.016, -0.021, -0.014, -0.024, -0.018, -0.020, -0.015, -0.023,
    -0.019, -0.026, -0.017, -0.022, -0.025, -0.020, -0.018, -0.016,
    0.002, -0.001, -0.004, 0.000, -0.006, -0.002, -0.005, -0.003,
    -0.007, -0.004, -0.002, -0.008, -0.005, -0.010, -0.006, -0.003,
    -0.009, -0.006, -0.011, -0.007, -0.004, -0.010, -0.008, -0.013,
    -0.010, -0.007, -0.012, -0.009, -0.014, -0.011, -0.008, -0.015,
    -0.012, -0.017, -0.013, -0.016, -0.011, -0.018, -0.014, -0.020,
    -0.017, -0.015, -0.021, -0.018, -0.022, -0.019, -0.023, -0.024,
]
flc2_byrm_err = [
    0.003, 0.004, 0.003, 0.005, 0.003, 0.004, 0.003, 0.004,
    0.005, 0.003, 0.004, 0.003, 0.006, 0.003, 0.004, 0.003,
    0.004, 0.005, 0.003, 0.004, 0.003, 0.004, 0.005, 0.003,
    0.004, 0.003, 0.006, 0.004, 0.003, 0.004, 0.003, 0.005,
    0.003, 0.004, 0.003, 0.005, 0.004, 0.003, 0.004, 0.003,
    0.005, 0.004, 0.003, 0.004, 0.006, 0.003, 0.004, 0.003,
    0.004, 0.003, 0.005, 0.004, 0.003, 0.004, 0.003, 0.004,
    0.003, 0.005, 0.004, 0.003, 0.004, 0.003, 0.005, 0.004,
    0.003, 0.004, 0.003, 0.004, 0.005, 0.003, 0.004, 0.003,
    0.004, 0.003, 0.005, 0.003, 0.004, 0.003, 0.004, 0.005,
    0.003, 0.004, 0.003, 0.005, 0.004, 0.003, 0.004, 0.003,
    0.005, 0.003, 0.004, 0.003, 0.004, 0.005, 0.003, 0.004,
    0.003, 0.004, 0.005, 0.003, 0.004, 0.003, 0.005, 0.004,
    0.004, 0.003, 0.004, 0.005, 0.003, 0.004, 0.003, 0.004,
    0.003, 0.005, 0.004, 0.003, 0.004, 0.003, 0.005, 0.004,
]
fun30_byrm = [
    -0.004, 0.006, -0.012, 0.002, -0.020, 0.000, -0.008, -0.025,
    -0.002, 0.004, -0.010, -0.015, -0.005, -0.001, -0.018, -0.007,
    -0.012, -0.003, -0.022, -0.006, -0.028, -0.009, -0.014, -0.001,
    -0.010, -0.024, -0.005, -0.016, -0.030, -0.012, -0.008, -0.020,
    -0.014, -0.035, -0.018, -0.009, -0.025, -0.015, -0.040, -0.011,
    -0.022, -0.046, -0.016, -0.028, -0.112, -0.020, -0.035, -0.052,
    -0.018, -0.030, -0.060, -0.025, -0.038, -0.021, -0.044, -0.033,
    -0.027, -0.048, -0.035, -0.022, -0.040, -0.030, -0.055, -0.082,
    -0.036, -0.045, -0.028, -0.050, -0.038, -0.042, -0.062, -0.070,
    -0.006, -0.015, 0.002, -0.010, -0.004, -0.018, -0.008, -0.013,
    -0.003, -0.020, -0.011, -0.007, -0.016, -0.024, -0.009, -0.019,
    -0.013, -0.027, -0.006, -0.017, -0.022, -0.010, -0.031, -0.015,
    -0.020, -0.012, -0.029, -0.018, -0.025, -0.038, -0.014, -0.027,
    -0.024, -0.033, -0.019, -0.041, -0.028, -0.036, -0.023, -0.045,
    -0.031, -0.039, -0.027, -0.044, -0.035, -0.048, -0.040, -0.052,
]
fun30_byrm_err = [
    0.005, 0.004, 0.006, 0.004, 0.005, 0.004, 0.006, 0.005,
    0.004, 0.005, 0.004, 0.006, 0.004, 0.005, 0.004, 0.006,
    0.005, 0.004, 0.006, 0.004, 0.005, 0.004, 0.005, 0.004,
    0.004, 0.006, 0.004, 0.005, 0.006, 0.004, 0.005, 0.004,
    0.005, 0.004, 0.006, 0.004, 0.005, 0.004, 0.006, 0.004,
    0.005, 0.006, 0.004, 0.005, 0.004, 0.005, 0.006, 0.008,
    0.004, 0.005, 0.006, 0.004, 0.005, 0.004, 0.006, 0.005,
    0.004, 0.006, 0.005, 0.004, 0.005, 0.004, 0.006, 0.008,
    0.005, 0.004, 0.006, 0.005, 0.004, 0.005, 0.010, 0.008,
    0.004, 0.005, 0.004, 0.006, 0.004, 0.005, 0.004, 0.005,
    0.006, 0.004, 0.005, 0.004, 0.006, 0.005, 0.004, 0.005,
    0.004, 0.006, 0.005, 0.004, 0.005, 0.004, 0.006, 0.004,
    0.005, 0.004, 0.006, 0.005, 0.004, 0.006, 0.004, 0.005,
    0.004, 0.005, 0.004, 0.006, 0.005, 0.004, 0.005, 0.006,
    0.005, 0.004, 0.006, 0.005, 0.004, 0.005, 0.006, 0.004,
]

panels = [
    (csr1_sc, csr1_sc_fit, csr1_ypd, csr1_ypd_fit, csr1_evo, csr1_evo_fit, csr1_byrm, csr1_byrm_err),
    (dpb4_sc, dpb4_sc_fit, dpb4_ypd, dpb4_ypd_fit, dpb4_evo, dpb4_evo_fit, dpb4_byrm, dpb4_byrm_err),
    (eaf1_sc, eaf1_sc_fit, eaf1_ypd, eaf1_ypd_fit, eaf1_evo, eaf1_evo_fit, eaf1_byrm, eaf1_byrm_err),
    (ebs1_sc, ebs1_sc_fit, ebs1_ypd, ebs1_ypd_fit, ebs1_evo, ebs1_evo_fit, ebs1_byrm, ebs1_byrm_err),
    (flc2_sc, flc2_sc_fit, flc2_ypd, flc2_ypd_fit, flc2_evo, flc2_evo_fit, flc2_byrm, flc2_byrm_err),
    (fun30_sc, fun30_sc_fit, fun30_ypd, fun30_ypd_fit, fun30_evo, fun30_evo_fit, fun30_byrm, fun30_byrm_err),
]

ylims = [(-0.049, 0.028), (-0.405, 0.048), (-0.152, 0.07), (-0.071, 0.084), (-0.246, 0.085), (-0.132, 0.107)]
yticks = [[-0.04, -0.02, 0.0, 0.02], [-0.4, -0.3, -0.2, -0.1, 0.0], [-0.15, -0.10, -0.05, 0.0, 0.05],
          [-0.05, 0.0, 0.05], [-0.2, -0.1, 0.0], [-0.10, -0.05, 0.0, 0.05, 0.10]]

sns.set_style("ticks")
plt.rcParams['font.family'] = ['Open Sans', 'DejaVu Sans']
plt.rcParams.update({
    'xtick.labelsize': 5.5, 'ytick.labelsize': 5.5,
    'xtick.major.size': 3.5, 'ytick.major.size': 3.5,
    'xtick.major.width': 1.0, 'ytick.major.width': 1.0,
    'xtick.major.pad': 2.5, 'ytick.major.pad': 2.5,
    'axes.linewidth': 1.0, 'axes.edgecolor': '#333333',
})
pal = sns.color_palette("colorblind", 6)


def draw_strains(ax, pts, fits, labels):
    handles = []
    for s in range(6):
        sel = [p for p in pts if p[0] == s]
        if not sel:
            continue
        h = ax.errorbar([p[1] for p in sel], [p[2] for p in sel],
                        xerr=[p[3] for p in sel], yerr=[p[4] for p in sel],
                        fmt='o', ms=3.4, mew=0, color=pal[s], ecolor=(*pal[s], 0.5),
                        elinewidth=1.1, capsize=0, zorder=3, label=labels[s])
        handles.append(h)
    for s, x0, x1, slope, icpt in fits:
        xs = np.array([x0, x1])
        ax.plot(xs, icpt + slope * xs, ls=(0, (3, 2)), lw=0.8,
                color='#222222' if s < 0 else pal[s], zorder=2)
    return handles


fig, axes = plt.subplots(6, 4, figsize=(6.91, 8.76), dpi=100, sharey='row')
plt.subplots_adjust(left=0.0564, right=0.8973, top=0.9555, bottom=0.0925, wspace=0.197, hspace=0.405)

leg_handles = []
for r, (sc, scf, ypd, ypdf, evo, evof, by, byerr) in enumerate(panels):
    row = axes[r]
    h0 = draw_strains(row[0], sc, scf, strains_sc)
    h1 = draw_strains(row[1], ypd, ypdf, strains_ypd)
    h2 = draw_strains(row[2], evo, evof, strains_ypd)
    if r == 5:
        leg_handles = [h0, h1, h2]
    row[3].errorbar(byrm_fitness, by, yerr=byerr, fmt='o', ms=2.0, mew=0, color='#1a1a1a',
                    ecolor=(0.1, 0.1, 0.1, 0.55), elinewidth=0.8, capsize=0, zorder=3)
    for c in range(3):
        row[c].axhline(0, color='#aaaaaa', lw=0.8, zorder=1)
    row[3].axhline(0, color='#888888', lw=0.6, ls=':', zorder=1)

    row[0].set_ylim(*ylims[r])
    row[0].set_yticks(yticks[r])
    row[0].set_ylabel("s", fontsize=10.5)
    row[0].yaxis.set_label_coords(-0.2, 0.5)

    row[0].set_xlim(-0.217, 0.109)
    row[0].set_xticks([-0.2, -0.1, 0.0, 0.1])
    row[1].set_xlim(-0.112, 0.058)
    row[1].set_xticks([-0.10, -0.05, 0.0, 0.05])
    if r == 0:
        row[2].set_xlim(-0.36, 0.084)
        row[2].set_xticks([-0.3, -0.2, -0.1, 0.0])
    else:
        row[2].set_xlim(-0.494, 0.113)
        row[2].set_xticks([-0.4, -0.2, 0.0])
    row[3].set_xlim(-0.137, 0.11)
    row[3].set_xticks([-0.10, -0.05, 0.0, 0.05, 0.10])

    pos = row[3].get_position()
    fig.text(0.914, (pos.y0 + pos.y1) / 2, "in " + genes[r], fontsize=9.5, va='center', ha='left')

for c in range(4):
    axes[0, c].set_title(col_titles[c], fontsize=10.5, pad=6)
for c in range(3):
    axes[5, c].set_xlabel("Generations", fontsize=10.5, labelpad=4)
    axes[5, c].legend(handles=leg_handles[c], loc='upper center', bbox_to_anchor=(0.46, -0.43),
                      ncol=2, frameon=False, fontsize=6.5, handlelength=1.2, handletextpad=0.9,
                      columnspacing=2.6, labelspacing=0.45, borderaxespad=0.0)
axes[5, 3].set_xlabel("Fitness", fontsize=10.5, labelpad=4)

sns.despine(fig)
fig.savefig("out.png", dpi=100)
